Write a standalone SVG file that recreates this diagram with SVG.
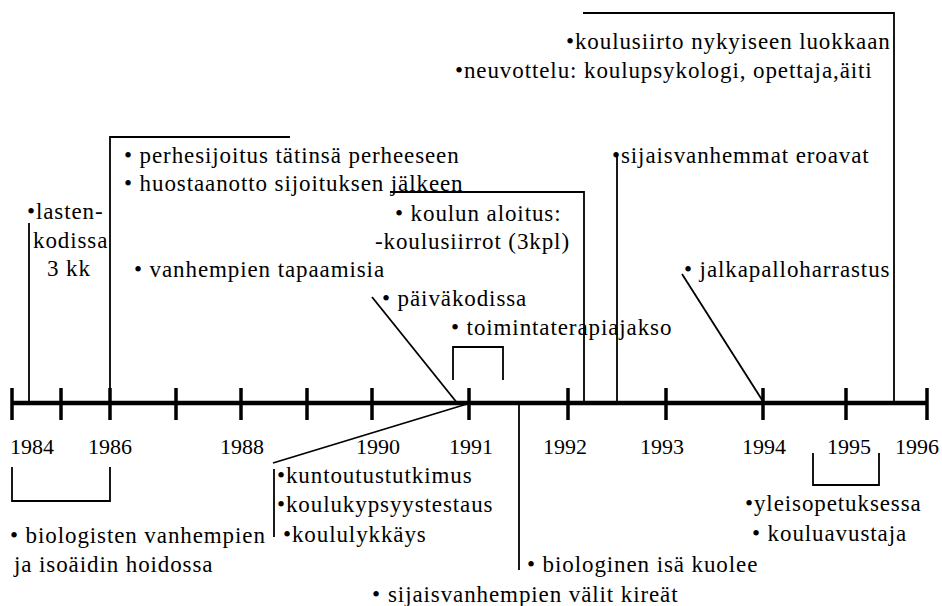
<svg xmlns="http://www.w3.org/2000/svg" width="942" height="606" viewBox="0 0 942 606">
<style>
text{font-family:"Liberation Serif","Times New Roman",serif;font-size:23px;fill:#000;letter-spacing:0.9px}
.yr{text-anchor:middle;letter-spacing:0;font-size:22px}
.ln{fill:none;stroke:#000;stroke-width:1.8}
.axis{stroke:#000;stroke-width:4.5;fill:none}
.tick{stroke:#000;stroke-width:3.5}
</style>
<rect width="942" height="606" fill="#fff"/>
<g id="timeline">
<line class="axis" x1="12" y1="403" x2="927" y2="403"/>
<g class="tick">
<line x1="12" y1="388" x2="12" y2="420"/>
<line x1="61" y1="388" x2="61" y2="420"/>
<line x1="110" y1="388" x2="110" y2="420"/>
<line x1="176" y1="388" x2="176" y2="420"/>
<line x1="241" y1="388" x2="241" y2="420"/>
<line x1="307" y1="388" x2="307" y2="420"/>
<line x1="372" y1="388" x2="372" y2="420"/>
<line x1="469" y1="388" x2="469" y2="420"/>
<line x1="568" y1="388" x2="568" y2="420"/>
<line x1="666" y1="388" x2="666" y2="420"/>
<line x1="763" y1="388" x2="763" y2="420"/>
<line x1="846" y1="388" x2="846" y2="420"/>
<line x1="927" y1="388" x2="927" y2="420"/>
</g>
<text class="yr" x="32" y="454">1984</text>
<text class="yr" x="110" y="454">1986</text>
<text class="yr" x="242" y="454">1988</text>
<text class="yr" x="378" y="454">1990</text>
<text class="yr" x="471" y="454">1991</text>
<text class="yr" x="565" y="454">1992</text>
<text class="yr" x="662" y="454">1993</text>
<text class="yr" x="764" y="454">1994</text>
<text class="yr" x="849" y="454">1995</text>
<text class="yr" x="917" y="454">1996</text>
</g>
<g id="connectors">
<path class="ln" d="M29,223 V403"/>
<path class="ln" d="M110,403 V137 H290"/>
<path class="ln" d="M390,192 H584 V403"/>
<path class="ln" d="M617,155 V403"/>
<path class="ln" d="M583,13 H894 V403"/>
<path class="ln" d="M682,274 L764,403"/>
<path class="ln" d="M372,297 L458,404"/>
<path class="ln" d="M453,380 V347 H503 V380"/>
<path class="ln" d="M273,463 L467,404"/>
<path class="ln" d="M274,469 V537"/>
<path class="ln" d="M519,403 V570"/>
<path class="ln" d="M12,467 V501 H110 V467"/>
<path class="ln" d="M813,453 V485 H879 V453"/>
</g>
<g id="n-koulusiirto"><text x="566" y="49">•koulusiirto nykyiseen luokkaan</text></g>
<g id="n-neuvottelu"><text x="455" y="78">•neuvottelu: koulupsykologi, opettaja,äiti</text></g>
<g id="n-perhesijoitus"><text x="124" y="163">• perhesijoitus tätinsä perheeseen</text></g>
<g id="n-huostaanotto"><text x="124" y="191">• huostaanotto sijoituksen jälkeen</text></g>
<g id="n-eroavat"><text x="612" y="163">•sijaisvanhemmat eroavat</text></g>
<g id="n-lastenkodissa">
<text x="27" y="219">•lasten-</text>
<text x="33" y="248">kodissa</text>
<text x="47" y="276">3 kk</text>
</g>
<g id="n-koulun-aloitus">
<text x="395" y="221">• koulun aloitus:</text>
<text x="375" y="249">-koulusiirrot (3kpl)</text>
</g>
<g id="n-tapaamisia"><text x="134" y="277">• vanhempien tapaamisia</text></g>
<g id="n-jalkapallo"><text x="684" y="277">• jalkapalloharrastus</text></g>
<g id="n-paivakodissa"><text x="382" y="306">• päiväkodissa</text></g>
<g id="n-toimintaterapia"><text x="451" y="335">• toimintaterapiajakso</text></g>
<g id="n-kuntoutus">
<text x="277" y="483">•kuntoutustutkimus</text>
<text x="277" y="512">•koulukypsyystestaus</text>
<text x="283" y="542">•koululykkäys</text>
</g>
<g id="n-biologiset">
<text x="10" y="543">• biologisten vanhempien</text>
<text x="14" y="572">ja isoäidin hoidossa</text>
</g>
<g id="n-isa-kuolee"><text x="527" y="572">• biologinen isä kuolee</text></g>
<g id="n-valit-kireat"><text x="372" y="602">•<tspan x="388">sijaisvanhempien välit kireät</tspan></text></g>
<g id="n-yleisopetus">
<text x="745" y="511">•yleisopetuksessa</text>
<text x="752" y="541">• kouluavustaja</text>
</g>
</svg>
